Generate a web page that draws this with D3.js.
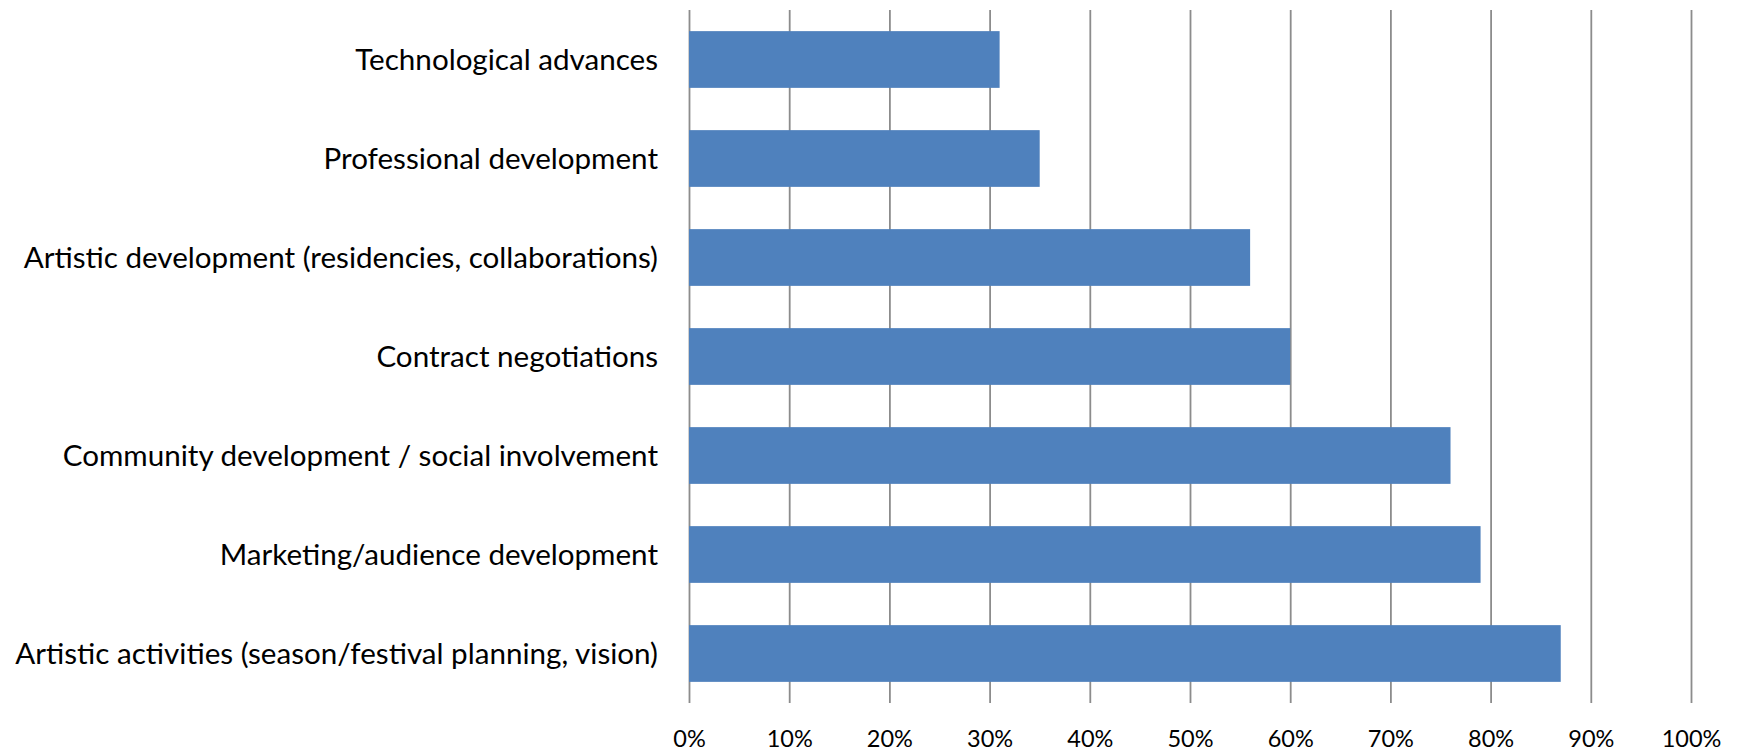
<!DOCTYPE html>
<html>
<head>
<meta charset="utf-8">
<script src="https://cdn.jsdelivr.net/npm/d3@7"></script>
<style>
  html, body { margin: 0; padding: 0; background: #fff; }
  svg { display: block; }
</style>
</head>
<body>
<svg id="chart" width="1739" height="751"></svg>
<script>
// Share of respondents by area (%)
const categories = [
  "Technological advances",
  "Professional development",
  "Artistic development (residencies, collaborations)",
  "Contract negotiations",
  "Community development / social involvement",
  "Marketing/audience development",
  "Artistic activities (season/festival planning, vision)"
];
const values = [31, 35, 56, 60, 76, 79, 87];
const tickValues = [0, 10, 20, 30, 40, 50, 60, 70, 80, 90, 100];

const svg = d3.select("#chart");
const margin = { top: 10, left: 689, right: 48, bottom: 48 };
const width = 1739, height = 751;

const x = d3.scaleLinear()
  .domain([0, 100])
  .range([margin.left, width - margin.right]);

const y = d3.scaleBand()
  .domain(categories)
  .range([margin.top, height - margin.bottom])
  .paddingInner(0.427)
  .paddingOuter(0.2135);

const fontFamily = "Lato, 'Open Sans', sans-serif";

// vertical gridlines and percentage labels
const xAxis = d3.axisBottom(x)
  .tickValues(tickValues)
  .tickSize(-(height - margin.bottom - margin.top))
  .tickFormat(d => d + "%");

const gx = svg.append("g")
  .attr("transform", `translate(0,${height - margin.bottom})`)
  .call(xAxis);
gx.select(".domain").remove();
gx.selectAll(".tick line")
  .attr("stroke", "#8c8c8c")
  .attr("stroke-width", 1.8);
gx.selectAll(".tick text")
  .attr("fill", "#000")
  .attr("font-family", fontFamily)
  .attr("font-size", 23.5)
  .attr("dy", 0)
  .attr("y", 44);

// bars
svg.append("g")
  .selectAll("rect")
  .data(values)
  .join("rect")
  .attr("x", x(0))
  .attr("y", (d, i) => y(categories[i]))
  .attr("width", d => x(d) - x(0))
  .attr("height", y.bandwidth())
  .attr("fill", "#4f81bd");

// category labels
const yAxis = d3.axisLeft(y).tickSize(0).tickPadding(31);
const gy = svg.append("g")
  .attr("transform", `translate(${x(0)},0)`)
  .call(yAxis);
gy.select(".domain").remove();
gy.selectAll(".tick text")
  .attr("fill", "#000")
  .attr("font-family", fontFamily)
  .attr("font-size", 29.6)
  .attr("dy", "0.35em");
</script>
</body>
</html>
